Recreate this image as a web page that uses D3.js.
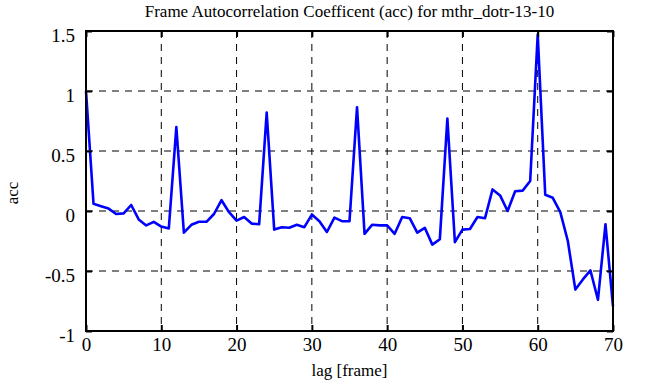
<!DOCTYPE html>
<html>
<head>
<meta charset="utf-8">
<script src="https://cdn.jsdelivr.net/npm/d3@7"></script>
<style>
  body { margin: 0; background: #fff; }
  svg { display: block; }
  svg text { font-family: "Liberation Serif", "Times New Roman", serif; fill: #000; }
</style>
</head>
<body>
<script>
'use strict';

// autocorrelation por lag (0..70)
const lags = d3.range(0, 71)
const acc = [
    1.00, 0.06, 0.04, 0.02, -0.025, -0.02, 0.05, -0.07, -0.12, -0.09,
    -0.13, -0.145, 0.70, -0.18, -0.115, -0.09, -0.09, -0.025, 0.09, -0.01,
    -0.08, -0.05, -0.105, -0.11, 0.82, -0.155, -0.135, -0.14, -0.115, -0.135,
    -0.03, -0.085, -0.175, -0.055, -0.085, -0.085, 0.865, -0.19, -0.115, -0.12,
    -0.12, -0.19, -0.05, -0.06, -0.18, -0.14, -0.28, -0.235, 0.77, -0.26,
    -0.155, -0.15, -0.05, -0.06, 0.18, 0.13, 0.0, 0.165, 0.17, 0.25,
    1.47, 0.135, 0.11, -0.01, -0.25, -0.655, -0.57, -0.495, -0.74, -0.11,
    -0.795
]
const xTicks = [0, 10, 20, 30, 40, 50, 60, 70]
const yTicks = [-1, -0.5, 0, 0.5, 1, 1.5]

const largura = 651
const altura = 387
const margem = {top: 31, right: 38, bottom: 56, left: 86}

const svg = d3.select('body').append('svg')
    .attr('width', largura)
    .attr('height', altura)

const x = d3.scaleLinear().domain([0, 70]).range([margem.left, largura - margem.right])
const y = d3.scaleLinear().domain([-1, 1.5]).range([altura - margem.bottom, margem.top])

// grade tracejada
svg.append('g')
    .selectAll('line')
    .data(xTicks.slice(1, -1))
    .enter().append('line')
    .attr('x1', d => x(d)).attr('x2', d => x(d))
    .attr('y1', y(1.5)).attr('y2', y(-1))
    .attr('stroke', '#000').attr('stroke-width', 1)
    .attr('stroke-dasharray', '7,6')
svg.append('g')
    .selectAll('line')
    .data(yTicks.slice(1, -1))
    .enter().append('line')
    .attr('x1', x(0)).attr('x2', x(70))
    .attr('y1', d => y(d)).attr('y2', d => y(d))
    .attr('stroke', '#000').attr('stroke-width', 1)
    .attr('stroke-dasharray', '7,6')

// serie
const linha = d3.line()
    .x((d, i) => x(lags[i]))
    .y(d => y(d))
svg.append('path')
    .datum(acc)
    .attr('d', linha)
    .attr('fill', 'none')
    .attr('stroke', '#0000ff')
    .attr('stroke-width', 2.6)
    .attr('stroke-linejoin', 'round')

// eixos com ticks para dentro
const eixoX = d3.axisBottom(x).tickValues(xTicks).tickSize(-6).tickPadding(7).tickFormat(d3.format('d'))
const eixoXtopo = d3.axisTop(x).tickValues(xTicks).tickSize(-6).tickFormat('')
const eixoY = d3.axisLeft(y).tickValues(yTicks).tickSize(-6).tickPadding(11).tickFormat(d => d)
const eixoYdir = d3.axisRight(y).tickValues(yTicks).tickSize(-6).tickFormat('')

function estilo(g) {
    g.attr('font-family', '"Liberation Serif", "Times New Roman", serif')
        .attr('font-size', 19)
    g.select('.domain').remove()
    g.selectAll('line').attr('stroke', '#000').attr('stroke-width', 2)
    g.selectAll('text').attr('fill', '#000')
}

svg.append('g').attr('transform', `translate(0, ${y(-1)})`).call(eixoX).call(estilo)
svg.append('g').attr('transform', `translate(0, ${y(1.5)})`).call(eixoXtopo).call(estilo)
const gy = svg.append('g').attr('transform', `translate(${x(0)}, 0)`).call(eixoY).call(estilo)
gy.selectAll('text').attr('dy', '10px')
svg.append('g').attr('transform', `translate(${x(70)}, 0)`).call(eixoYdir).call(estilo)

// moldura
svg.append('rect')
    .attr('x', x(0)).attr('y', y(1.5))
    .attr('width', x(70) - x(0)).attr('height', y(-1) - y(1.5))
    .attr('fill', 'none').attr('stroke', '#000').attr('stroke-width', 2)

// textos
svg.append('text')
    .attr('x', (x(0) + x(70)) / 2).attr('y', 17)
    .attr('text-anchor', 'middle')
    .style('font-size', '17px')
    .text('Frame Autocorrelation Coefficent (acc) for mthr_dotr-13-10')
svg.append('text')
    .attr('x', (x(0) + x(70)) / 2).attr('y', 376)
    .attr('text-anchor', 'middle')
    .style('font-size', '17px')
    .text('lag [frame]')
svg.append('text')
    .attr('transform', 'translate(18, 193) rotate(-90)')
    .attr('text-anchor', 'middle')
    .style('font-size', '17px')
    .text('acc')
</script>
</body>
</html>
